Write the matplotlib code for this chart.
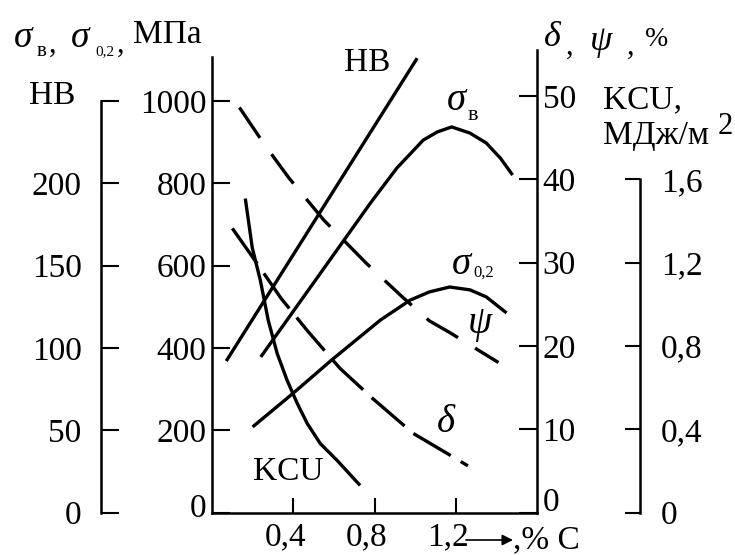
import matplotlib
matplotlib.use('Agg')
import matplotlib.pyplot as plt
from matplotlib.transforms import ScaledTranslation

W, H = 735, 555
plt.rcParams['font.family'] = ['Liberation Serif', 'DejaVu Serif']
plt.rcParams['font.size'] = 24

# ---- data ----
carbon_hb = [0.07, 1.01]
hb = [92, 276]

carbon_sb = [0.24, 0.78, 0.91, 1.04, 1.11, 1.18, 1.27, 1.35, 1.42, 1.48]
sigma_b = [378, 752, 837, 905, 925, 937, 922, 898, 861, 820]

carbon_s02 = [0.20, 0.40, 0.59, 0.83, 0.975, 1.07, 1.17, 1.27, 1.35, 1.45]
sigma_02 = [208, 290, 371, 468, 516, 536, 548, 541, 524, 485]

carbon_kcu = [0.164, 0.198, 0.238, 0.277, 0.321, 0.370, 0.420, 0.469, 0.533, 0.616, 0.729]
kcu = [1.507, 1.272, 1.114, 0.922, 0.763, 0.634, 0.523, 0.427, 0.331, 0.250, 0.130]

carbon_delta = [0.10, 0.21, 0.34, 0.47, 0.63, 0.79, 0.99, 1.15, 1.26]
delta = [34.1, 30.3, 25.7, 21.8, 17.3, 13.7, 9.5, 7.2, 5.6]

carbon_psi = [0.135, 0.26, 0.38, 0.55, 0.76, 0.94, 1.07, 1.17, 1.41]
psi = [48.6, 44.1, 40.1, 35.1, 29.9, 25.8, 23.0, 21.6, 18.0]

x_ticks = [0.4, 0.8, 1.2]
x_ticklabels = ['0,4', '0,8', '1,2']
sigma_ticks = [0, 200, 400, 600, 800, 1000]
hb_ticks = [0, 50, 100, 150, 200, 250]
hb_ticklabels = ['0', '50', '100', '150', '200', '']
pct_ticks = [0, 10, 20, 30, 40, 50]
kcu_ticks = [0, 0.4, 0.8, 1.2, 1.6]
kcu_ticklabels = ['0', '0,4', '0,8', '1,2', '1,6']

# ---- layout ----
fig = plt.figure(figsize=(W / 100, H / 100), dpi=100)
x0, x1, yb, yt = 212, 537, 512.5, 50
ax = fig.add_axes([x0 / W, (H - yb) / H, (x1 - x0) / W, (yb - yt) / H])
SIG_TOP = (yb - yt) / 0.4115
ax.set_xlim(0, 1.6)
ax.set_ylim(0, SIG_TOP)
ax.patch.set_visible(False)

LW_SP = 1.8
LW_C = 2.4

ax2 = ax.twinx()
ax3 = ax.twinx()
ax4 = ax.twinx()

ax2.set_ylim(0, 55.5)
ax3.set_ylim(0, SIG_TOP / 4)
ax4.set_ylim(0, 55.5 * 0.04)

for a in (ax, ax2, ax3, ax4):
    for s in a.spines.values():
        s.set_visible(False)
        s.set_linewidth(LW_SP)

# main sigma axis (left) + x axis
ax.spines['left'].set_visible(True)
ax.spines['left'].set_bounds(0, (yb - 57) / 0.4115)
ax.spines['bottom'].set_visible(True)
ax.set_xticks(x_ticks)
ax.set_xticklabels(x_ticklabels)
ax.set_yticks(sigma_ticks)
ax.set_yticklabels([str(v) for v in sigma_ticks])
ax.yaxis.tick_left()
ax.tick_params(axis='y', direction='in', length=13, width=1.5, pad=4)
ax.tick_params(axis='x', direction='in', length=11, width=1.5, pad=7)

# delta/psi axis (right)
ax2.spines['right'].set_visible(True)
ax2.set_yticks(pct_ticks)
ax2.set_yticklabels([str(v) for v in pct_ticks])
ax2.tick_params(axis='y', direction='in', length=13, width=1.5, pad=4)

# HB axis (far left)
ax3.spines['left'].set_visible(True)
ax3.spines['left'].set_position(('axes', (101 - x0) / (x1 - x0)))
ax3.spines['left'].set_bounds(0, 250)
ax3.yaxis.tick_left()
ax3.set_yticks(hb_ticks)
ax3.set_yticklabels(hb_ticklabels)
ax3.tick_params(axis='y', direction='in', length=13, width=1.5, pad=14)

# KCU axis (far right)
ax4.spines['right'].set_visible(True)
ax4.spines['right'].set_position(('axes', (640 - x0) / (x1 - x0)))
ax4.spines['right'].set_bounds(0, 1.6)
ax4.set_yticks(kcu_ticks)
ax4.set_yticklabels(kcu_ticklabels)
ax4.tick_params(axis='y', direction='in', length=11, width=1.5, pad=15)


def shift(label, dx, dy):
    label.set_transform(label.get_transform() +
                        ScaledTranslation(dx / 100, dy / 100, fig.dpi_scale_trans))


for lab in ax.get_xticklabels():
    shift(lab, -8, 0)
shift(ax.get_yticklabels()[0], 0, 7)
shift(ax2.get_yticklabels()[0], 0, 13)

# ---- curves ----
kw = dict(color='k', lw=LW_C, solid_capstyle='butt', solid_joinstyle='round')
ax3.plot(carbon_hb, hb, **kw)
ax.plot(carbon_sb, sigma_b, **kw)
ax.plot(carbon_s02, sigma_02, **kw)
ax4.plot(carbon_kcu, kcu, **kw)
ax2.plot(carbon_delta, delta, color='k', lw=LW_C, dashes=(13, 3.5),
         dash_capstyle='butt', dash_joinstyle='round')
ax2.plot(carbon_psi, psi, color='k', lw=LW_C, dashes=(11, 6),
         dash_capstyle='butt', dash_joinstyle='round')

# ---- text ----
def ptext(x, y, s, **kw):
    kw.setdefault('ha', 'center')
    kw.setdefault('va', 'center')
    return fig.text(x / W, 1 - y / H, s, **kw)

# top-left title
ptext(23, 38, 'σ', style='italic', fontsize=27)
ptext(42, 52, 'в', fontsize=15)
ptext(53, 44, ',', fontsize=22)
ptext(80, 38, 'σ', style='italic', fontsize=27)
ptext(105, 52, '0,2', fontsize=11)
ptext(121, 44, ',', fontsize=22)
ptext(133, 35, 'МПа', ha='left', fontsize=24)

# HB axis label
ptext(52, 96, 'HB', fontsize=24)

# top-right title
ptext(552, 38, 'δ', style='italic', fontsize=26)
ptext(570, 46, ',', fontsize=22)
ptext(601, 42, 'ψ', style='italic', fontsize=26)
ptext(631, 46, ',', fontsize=22)
ptext(657, 40, '%', fontsize=20)

# KCU label
ptext(603, 100, 'KCU,', ha='left', fontsize=24)
ptext(603, 136, 'МДж/м', ha='left', fontsize=24)
ptext(725, 126, '2', fontsize=22)

# in-plot labels
ptext(367, 63, 'HB', fontsize=24)
ptext(456, 101, 'σ', style='italic', fontsize=28)
ptext(473, 115, 'в', fontsize=16)
ptext(461, 265, 'σ', style='italic', fontsize=28)
ptext(484, 273, '0,2', fontsize=12)
ptext(480, 323, 'ψ', style='italic', fontsize=28)
ptext(446, 422, 'δ', style='italic', fontsize=28)
ptext(288, 472, 'KCU', fontsize=24)

# x-axis arrow + unit
ax.annotate('', xy=(513 / W, 1 - 540 / H), xytext=(466 / W, 1 - 540 / H),
            xycoords='figure fraction', textcoords='figure fraction',
            arrowprops=dict(arrowstyle='-|>', color='k', lw=1.2,
                            mutation_scale=16, shrinkA=0, shrinkB=0))
ptext(513, 540, ',% C', ha='left', fontsize=24)

fig.savefig('out.png', dpi=100)
